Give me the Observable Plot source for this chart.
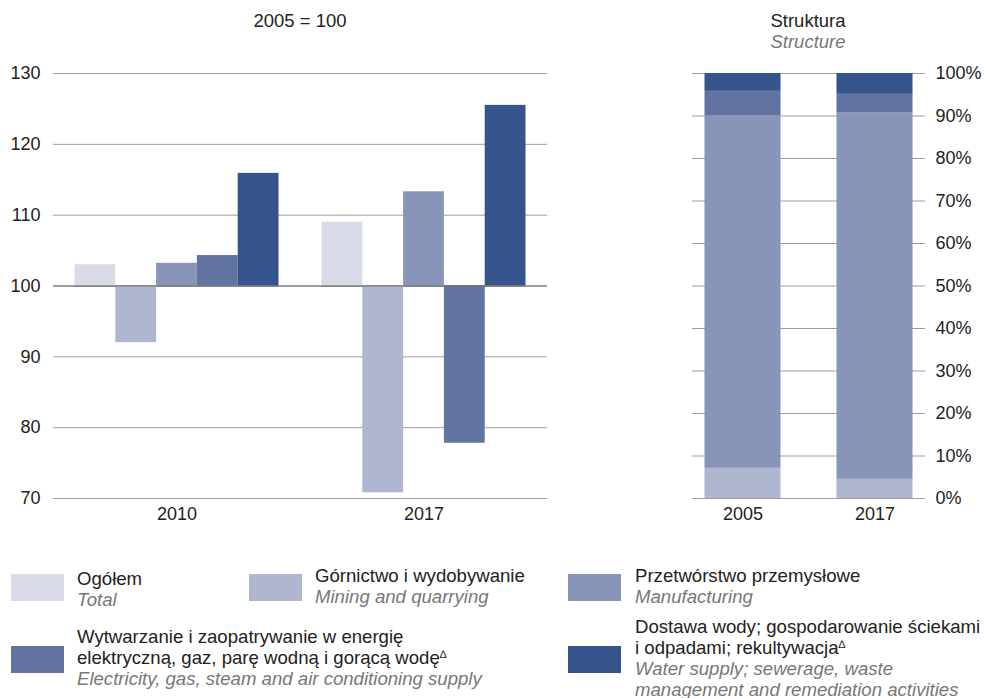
<!DOCTYPE html>
<html><head><meta charset="utf-8">
<script src="https://cdn.jsdelivr.net/npm/d3@7"></script>
<script src="https://cdn.jsdelivr.net/npm/@observablehq/plot@0.6"></script>
<style>
body{margin:0;background:#fff;font-family:"Liberation Sans",Arial,sans-serif;}
#root{position:relative;width:984px;height:698px;overflow:hidden;background:#fff;}
.abs{position:absolute;}
.t{font-size:18.6px;line-height:21px;color:#222;white-space:nowrap;}
.en{font-style:italic;color:#777;}
.sw{position:absolute;width:53px;height:27px;}
sup{font-size:11px;line-height:0;vertical-align:6px;}
</style></head><body><div id="root"></div>
<script>
// ---- data ----
const years = ["2010", "2017"];
const sectors = [
  "Ogółem",
  "Górnictwo i wydobywanie",
  "Przetwórstwo przemysłowe",
  "Wytwarzanie i zaopatrywanie w energię elektryczną, gaz, parę wodną i gorącą wodę",
  "Dostawa wody; gospodarowanie ściekami i odpadami; rekultywacja"
];
const sectorsEn = [
  "Total",
  "Mining and quarrying",
  "Manufacturing",
  "Electricity, gas, steam and air conditioning supply",
  "Water supply; sewerage, waste management and remediation activities"
];
const colors = ["#d9dbe8", "#b1b6d0", "#8895b8", "#6073a1", "#35548b"];
const index2010 = [103.0, 92.0, 103.2, 104.3, 115.9];
const index2017 = [109.0, 70.8, 113.3, 77.8, 125.5];
const structYears = ["2005", "2017"];
// structure (without "Ogółem"): mining, manufacturing, energy, water
const struct2005 = [7.1, 82.9, 5.8, 4.2];
const struct2017 = [4.5, 86.3, 4.3, 4.9];
const yTicksLeft = [70, 80, 90, 100, 110, 120, 130];
const yTicksRight = [0, 10, 20, 30, 40, 50, 60, 70, 80, 90, 100];

const root = document.getElementById("root");
const font = "'Liberation Sans', Arial, sans-serif";
const style = {fontFamily: font, fontSize: "18px", color: "#222", background: "transparent", overflow: "visible"};
function place(svg, x, y) {
  svg.style.position = "absolute"; svg.style.left = x + "px"; svg.style.top = y + "px";
  root.appendChild(svg);
}

// ---- left chart ----
const leftDims = {width: 560, height: 525, marginLeft: 53, marginRight: 13, marginTop: 73, marginBottom: 27};
// background grid + y axis (continuous across both groups)
place(Plot.plot({
  ...leftDims, style,
  x: {axis: null}, y: {domain: [70, 130], axis: null},
  marks: [
    Plot.ruleY(yTicksLeft, {stroke: "#9d9d9d", strokeWidth: 1}),
    Plot.ruleY([100], {stroke: "#6e6e6e", strokeWidth: 1.2}),
    Plot.axisY(yTicksLeft, {tickSize: 0, tickPadding: 13, label: null, fill: "#222", fontSize: 18})
  ]
}), 0, 0);

const idxData = years.flatMap((y, i) => sectors.map((s, j) => ({year: y, sector: s, value: [index2010, index2017][i][j]})));
place(Plot.plot({
  ...leftDims, style,
  fx: {domain: years, paddingInner: 0.174, paddingOuter: 0.087, round: false, axis: null, label: null},
  x: {domain: sectors, padding: 0, round: false, axis: null},
  y: {domain: [70, 130], axis: null},
  color: {domain: sectors, range: colors},
  marks: [
    Plot.barY(idxData, {fx: "year", x: "sector", y1: 100, y2: "value", fill: "sector"}),
    Plot.ruleY([100], {stroke: "#6e6e6e", strokeWidth: 1.2}),
    Plot.axisFx({anchor: "bottom", tickSize: 0, tickPadding: 9, label: null, fill: "#222", fontSize: 18})
  ]
}), 0, 0);

// ---- right chart ----
const stData = structYears.flatMap((y, i) => sectors.slice(1).map((s, j) => ({year: y, sector: s, value: [struct2005, struct2017][i][j]})));
place(Plot.plot({
  width: 304, height: 525,
  marginLeft: 12, marginRight: 59, marginTop: 73, marginBottom: 27,
  style,
  x: {domain: structYears, paddingInner: 0.424, paddingOuter: 0.0946, round: false, axis: null},
  y: {domain: [0, 100], axis: null},
  color: {domain: sectors, range: colors},
  marks: [
    Plot.ruleY(yTicksRight, {stroke: "#9d9d9d", strokeWidth: 1}),
    Plot.barY(stData, {x: "year", y: "value", fill: "sector"}),
    Plot.axisY(yTicksRight, {anchor: "right", tickSize: 0, tickPadding: 10, tickFormat: d => d + "%", label: null, fill: "#222", fontSize: 18}),
    Plot.axisX({tickSize: 0, tickPadding: 9, label: null, fill: "#222", fontSize: 18})
  ]
}), 680, 0);

// ---- titles ----
function addText(html, x, y, cls, extra) {
  const d = document.createElement("div");
  d.className = "abs t " + (cls || "");
  d.innerHTML = html;
  d.style.left = x + "px"; d.style.top = y + "px";
  if (extra) Object.assign(d.style, extra);
  root.appendChild(d);
  return d;
}
addText("2005 = 100", 200, 9.5, "", {width: "200px", textAlign: "center", fontSize: "18.5px"});
addText("Struktura", 708, 9.5, "", {width: "200px", textAlign: "center", fontSize: "18.5px"});
addText("Structure", 708, 31, "en", {width: "200px", textAlign: "center", fontSize: "18.5px"});

// ---- legend ----
const legendItems = [
  {i: 0, sx: 11, sy: 574, tx: 77, ty: 567.5, pl: ["Ogółem"], en: ["Total"]},
  {i: 1, sx: 249, sy: 574, tx: 315, ty: 564.5, pl: ["Górnictwo i wydobywanie"], en: ["Mining and quarrying"]},
  {i: 2, sx: 568, sy: 574, tx: 635, ty: 564.5, pl: ["Przetwórstwo przemysłowe"], en: ["Manufacturing"]},
  {i: 3, sx: 11, sy: 646, tx: 77, ty: 625.5, pl: ["Wytwarzanie i zaopatrywanie w energię", "elektryczną, gaz, parę wodną i gorącą wodę<sup>∆</sup>"], en: ["Electricity, gas, steam and air conditioning supply"]},
  {i: 4, sx: 568, sy: 646, tx: 635, ty: 615.5, pl: ["Dostawa wody; gospodarowanie ściekami", "i odpadami; rekultywacja<sup>∆</sup>"], en: ["Water supply; sewerage, waste", "management and remediation activities"]}
];
legendItems.forEach(it => {
  const sw = document.createElement("div");
  sw.className = "sw";
  sw.style.left = it.sx + "px"; sw.style.top = it.sy + "px";
  sw.style.background = colors[it.i];
  root.appendChild(sw);
  const html = it.pl.map(l => `<div>${l}</div>`).join("") + it.en.map(l => `<div class="en">${l}</div>`).join("");
  addText(html, it.tx, it.ty, "");
});
</script>
</body></html>
